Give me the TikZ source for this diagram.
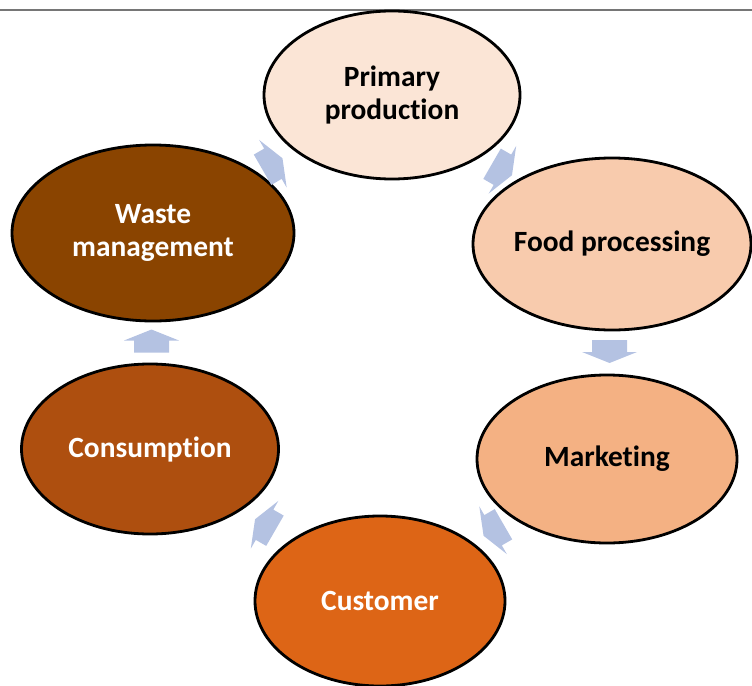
\documentclass[tikz,border=0pt]{standalone}
\usepackage{fontspec}
\setmainfont{Carlito}[Ligatures=NoCommon]
\usetikzlibrary{shapes.geometric,calc}
\definecolor{cPrim}{HTML}{FBE5D6}
\definecolor{cFood}{HTML}{F8CBAD}
\definecolor{cMark}{HTML}{F4B183}
\definecolor{cCust}{HTML}{DD6516}
\definecolor{cCons}{HTML}{AE4F0F}
\definecolor{cWaste}{HTML}{8A4400}
\definecolor{cArrow}{HTML}{B4C2E2}
\definecolor{cRule}{HTML}{767676}
\tikzset{
  stage/.style={ellipse, draw=black, line width=2.8bp, align=center, inner sep=0pt,
    font=\bfseries\fontsize{29.5}{34}\selectfont},
  cyclearrow/.pic={
    \fill[cArrow] (-11.5,-17.5) -- (0.5,-17.5) -- (0.5,-27.5) -- (11.5,0)
      -- (0.5,27.5) -- (0.5,17.5) -- (-11.5,17.5) -- cycle;
  }
}
\begin{document}
\begin{tikzpicture}[x=1bp, y=-1bp]
\useasboundingbox (0,0) rectangle (752,686);
\draw[cRule, line width=2.2bp] (0,10) -- (752,10);
\node[stage, fill=cPrim, minimum width=256bp, minimum height=168bp] (pp) at (392,95) {Primary\\production};
\node[stage, fill=cFood, minimum width=278bp, minimum height=172bp] (fp) at (612,244) {Food processing};
\node[stage, fill=cMark, minimum width=260bp, minimum height=168bp] (mk) at (607,459) {Marketing};
\node[stage, fill=cCust, text=white, minimum width=250bp, minimum height=170bp] (cu) at (380,601) {Customer};
\node[stage, fill=cCons, text=white, minimum width=257bp, minimum height=170bp] (co) at (150,449) {Consumption};
\node[stage, fill=cWaste, text=white, minimum width=282bp, minimum height=176bp] (wm) at (153,233) {Waste\\management};
\pic[rotate=-30] at ($(pp)!0.5!(fp)$) {cyclearrow};
\pic[rotate=-90] at ($(fp)!0.5!(mk)$) {cyclearrow};
\pic[rotate=-150] at ($(mk)!0.5!(cu)$) {cyclearrow};
\pic[rotate=150] at ($(cu)!0.5!(co)$) {cyclearrow};
\pic[rotate=90] at ($(co)!0.5!(wm)$) {cyclearrow};
\pic[rotate=30] at ($(wm)!0.5!(pp)$) {cyclearrow};
\end{tikzpicture}
\end{document}
